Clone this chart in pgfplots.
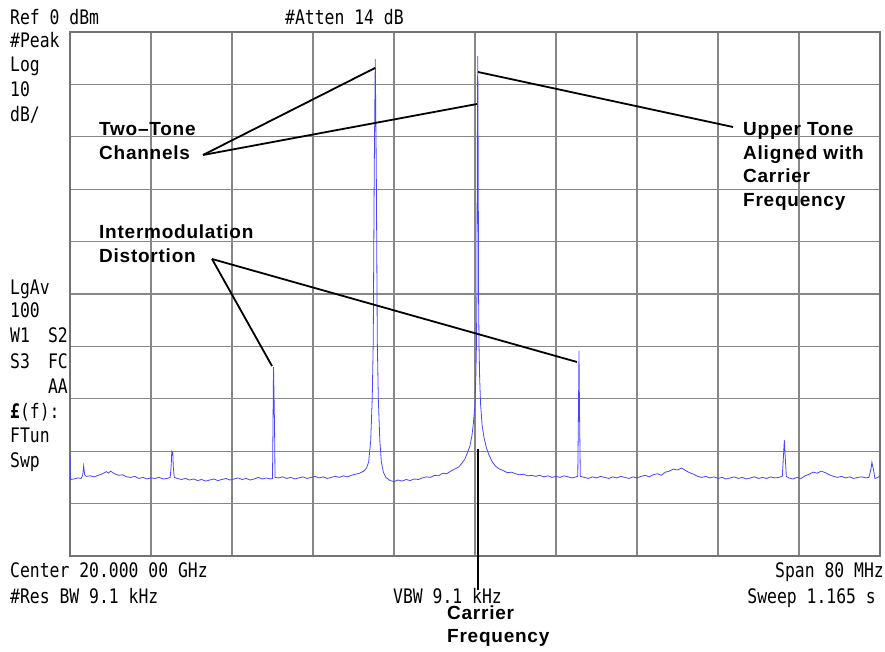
\documentclass[border=0pt]{standalone}
\usepackage{pgfplots}
\pgfplotsset{compat=1.18}
\usepackage{fontspec}
\setmainfont{Liberation Sans}
\newfontfamily\anfont[FakeStretch=0.82]{DejaVu Sans Mono}
\newfontfamily\annot[LetterSpace=4]{Liberation Sans}
\definecolor{trace}{RGB}{70,70,255}
\definecolor{gridc}{RGB}{135,135,135}
\definecolor{framec}{RGB}{115,115,115}
\begin{document}
\begin{tikzpicture}
\path[use as bounding box] (0,0) rectangle (885pt,651pt);
\begin{axis}[at={(70pt,95pt)}, anchor=south west, scale only axis,
  width=810pt, height=524pt,
  xmin=-40, xmax=40, ymin=-100, ymax=0,
  xtick={-32,-24,...,32}, ytick={-90,-80,...,-10},
  xticklabels={}, yticklabels={}, major tick length=0pt,
  grid=major, grid style={color=gridc, line width=1.2pt},
  axis line style={color=framec, line width=2pt},
  clip=true]
\addplot[color=trace, line width=0.8pt, mark=none] coordinates {
(-40,-80.7) (-39.95,-85.4) (-39.6,-85.3) (-39.2,-85.1) (-38.9,-85.2) (-38.75,-84.6) (-38.65,-82.8) (-38.55,-84.5)
(-38.4,-84.8) (-38.0,-84.7) (-37.6,-84.9) (-37.2,-84.6) (-36.8,-84.3) (-36.4,-83.9) (-36.2,-84.2) (-36.0,-83.8)
(-35.6,-84.3) (-35.2,-84.6) (-34.8,-84.5) (-34.4,-84.9) (-34.0,-85.0) (-33.6,-84.8) (-33.2,-85.2) (-32.8,-85.0)
(-32.4,-85.3) (-32.0,-85.1) (-31.6,-85.2) (-31.2,-85.0) (-30.8,-85.3) (-30.4,-85.2) (-30.1,-85.0) (-30.0,-82.5)
(-29.95,-80.0) (-29.85,-80.2) (-29.8,-83) (-29.7,-85.0) (-29.4,-85.2) (-29.0,-85.4) (-28.6,-85.2) (-28.2,-85.5)
(-27.8,-85.3) (-27.4,-85.6) (-27.0,-85.4) (-26.6,-85.7) (-26.2,-85.5) (-25.8,-85.3) (-25.4,-85.6) (-25.0,-85.4)
(-24.6,-85.2) (-24.2,-85.5) (-23.8,-85.3) (-23.4,-85.1) (-23.0,-85.4) (-22.6,-85.2) (-22.2,-85.5) (-21.8,-85.3)
(-21.4,-85.0) (-21.0,-85.3) (-20.6,-85.1) (-20.2,-85.3) (-20.0,-85.2) (-19.95,-75) (-19.9,-63.9) (-19.8,-75)
(-19.75,-85.0) (-19.4,-85.1) (-19.0,-84.9) (-18.6,-85.2) (-18.2,-85.0) (-17.8,-85.3) (-17.4,-85.1) (-17.0,-84.9)
(-16.6,-85.2) (-16.2,-85.0) (-15.8,-84.8) (-15.4,-85.1) (-15.0,-84.9) (-14.6,-85.2) (-14.2,-85.0) (-13.8,-84.8)
(-13.4,-85.0) (-13.0,-84.7) (-12.6,-84.9) (-12.2,-84.6) (-11.8,-84.4) (-11.4,-84.2) (-11.0,-83.8) (-10.7,-83.2)
(-10.5,-82) (-10.3,-78) (-10.15,-70) (-10.05,-59) (-9.95,-26) (-9.85,-5.2) (-9.75,-26) (-9.65,-59)
(-9.55,-70) (-9.4,-78) (-9.25,-82) (-9.05,-84.0) (-8.8,-85.0) (-8.4,-85.6) (-8.0,-85.8) (-7.6,-85.5)
(-7.2,-85.7) (-6.8,-85.4) (-6.4,-85.6) (-6.0,-85.3) (-5.6,-85.4) (-5.2,-85.1) (-4.8,-84.9) (-4.4,-85.0)
(-4.0,-84.6) (-3.6,-84.7) (-3.2,-84.2) (-2.8,-84.3) (-2.4,-83.8) (-2.0,-83.4) (-1.6,-83.0) (-1.3,-82.3)
(-1.0,-81.5) (-0.75,-80.3) (-0.5,-79) (-0.3,-77) (-0.15,-74.5) (0,-71) (0.08,-66) (0.14,-60)
(0.19,-50) (0.22,-26) (0.27,-4.6) (0.32,-26) (0.35,-50) (0.40,-60) (0.46,-66) (0.55,-71)
(0.7,-75) (0.9,-77.5) (1.15,-79.5) (1.4,-80.8) (1.7,-82) (2.0,-82.8) (2.4,-83.4) (2.8,-83.7)
(3.2,-84.1) (3.6,-84.0) (4.0,-84.3) (4.4,-84.5) (4.8,-84.4) (5.2,-84.7) (5.6,-84.6) (6.0,-84.8)
(6.4,-84.6) (6.8,-84.9) (7.2,-84.7) (7.6,-85.0) (8.0,-84.8) (8.4,-85.0) (8.8,-84.7) (9.2,-84.9)
(9.6,-85.1) (10.0,-84.9) (10.15,-84.8) (10.22,-72) (10.27,-60.9) (10.32,-72) (10.4,-84.8) (10.8,-85.0)
(11.2,-85.2) (11.6,-84.9) (12.0,-85.1) (12.4,-84.8) (12.8,-85.0) (13.2,-85.2) (13.6,-84.9) (14.0,-85.1)
(14.4,-84.8) (14.8,-85.0) (15.2,-85.2) (15.6,-84.9) (16.0,-85.1) (16.4,-84.8) (16.8,-84.6) (17.2,-84.9)
(17.6,-84.5) (18.0,-84.3) (18.4,-84.6) (18.8,-84.0) (19.2,-83.8) (19.6,-83.4) (20.0,-83.6) (20.4,-83.2)
(20.8,-83.7) (21.2,-84.1) (21.6,-84.4) (22.0,-84.8) (22.4,-85.0) (22.8,-84.8) (23.2,-85.1) (23.6,-84.9)
(24.0,-85.2) (24.4,-85.0) (24.8,-85.3) (25.2,-85.1) (25.6,-84.9) (26.0,-85.2) (26.4,-85.0) (26.8,-85.3)
(27.2,-85.1) (27.6,-84.9) (28.0,-85.2) (28.4,-85.0) (28.8,-85.2) (29.2,-84.9) (29.6,-85.1) (30.0,-85.0)
(30.35,-84.8) (30.45,-81.5) (30.55,-77.9) (30.65,-81.5) (30.75,-84.8) (31.0,-85.1) (31.4,-85.3) (31.8,-85.0)
(32.2,-85.2) (32.6,-84.7) (33.0,-84.4) (33.4,-84.0) (33.8,-84.2) (34.2,-83.8) (34.6,-84.1) (35.0,-84.5)
(35.4,-84.8) (35.8,-85.0) (36.2,-84.8) (36.6,-85.1) (37.0,-84.9) (37.4,-85.2) (37.8,-85.0) (38.2,-84.9)
(38.6,-85.1) (38.9,-85.0) (39.1,-83.5) (39.2,-82.1) (39.35,-83.5) (39.5,-85.2) (39.8,-85.0) (40,-84.6)
};
\end{axis}
\begin{scope}[shift={(0pt,651pt)}, x=1pt, y=-1pt]
\tikzset{an/.style={anchor=base west, inner sep=0pt, font=\anfont\fontsize{20}{20}\selectfont},
         ar/.style={anchor=base east, inner sep=0pt, font=\anfont\fontsize{20}{20}\selectfont},
         bt/.style={anchor=base west, inner sep=0pt, font=\annot\bfseries\fontsize{19}{19}\selectfont}}
% analyzer labels
\node[an] at (10,25) {Ref 0 dBm};
\node[an] at (285,25) {\#Atten 14 dB};
\node[an] at (10,48) {\#Peak};
\node[an] at (10,72) {Log};
\node[an] at (10,97) {10};
\node[an] at (10,122) {dB/};
\node[an] at (10,295) {LgAv};
\node[an] at (10,318) {100};
\node[an] at (10,343) {W1};
\node[ar] at (68,343) {S2};
\node[an] at (10,368) {S3};
\node[ar] at (68,368) {FC};
\node[ar] at (68,393) {AA};
\node[an] at (10,418) {{\bfseries £}(f):};
\node[an] at (10,442) {FTun};
\node[an] at (10,467) {Swp};
\node[an] at (10,577) {Center 20.000 00 GHz};
\node[ar] at (884,577) {Span 80 MHz};
\node[an] at (10,603) {\#Res BW 9.1 kHz};
\node[an] at (393,603) {VBW 9.1 kHz};
\node[ar] at (876,603) {Sweep 1.165 s};
% annotation lines
\draw[black, line width=1.8pt] (203,155) -- (375,68);
\draw[black, line width=1.8pt] (203,155) -- (477,104);
\draw[black, line width=1.8pt] (478,72) -- (733,127);
\draw[black, line width=1.8pt] (212,259) -- (272,366);
\draw[black, line width=1.8pt] (212,259) -- (577,362);
\draw[black, line width=1.8pt] (478,449) -- (478,590);
% annotation text
\node[bt] at (99,136) {Two–Tone};
\node[bt] at (99,160) {Channels};
\node[bt] at (99,239) {Intermodulation};
\node[bt] at (99,263) {Distortion};
\node[bt] at (743,136) {Upper Tone};
\node[bt] at (743,160) {Aligned with};
\node[bt] at (743,183) {Carrier};
\node[bt] at (743,207) {Frequency};
\node[bt] at (447,619) {Carrier};
\node[bt] at (447,642) {Frequency};
\end{scope}
\end{tikzpicture}
\end{document}
